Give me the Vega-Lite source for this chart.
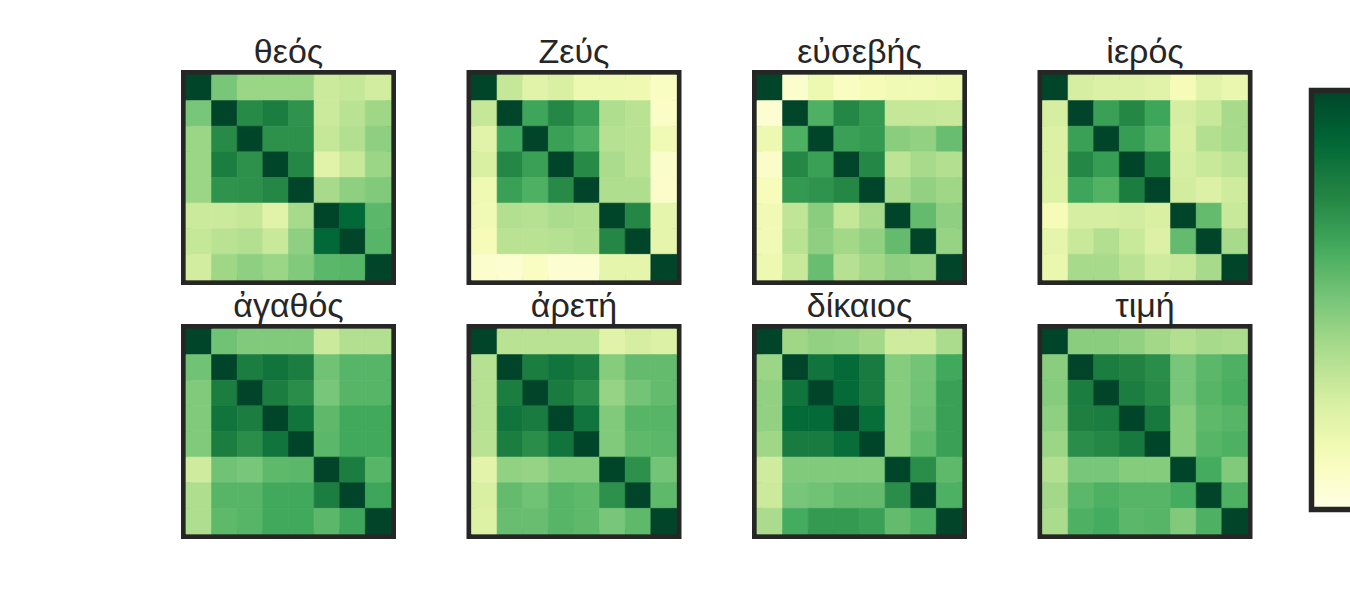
{
"$schema": "https://vega.github.io/schema/vega-lite/v6.json",
"background": "white",
"padding": {"left": 180, "top": 30, "right": 0, "bottom": 0},
"data": {"values": [
{"w":"θεός","r":0,"c":0,"v":1},{"w":"θεός","r":0,"c":1,"v":0.50},{"w":"θεός","r":0,"c":2,"v":0.42},{"w":"θεός","r":0,"c":3,"v":0.42},{"w":"θεός","r":0,"c":4,"v":0.42},{"w":"θεός","r":0,"c":5,"v":0.29},{"w":"θεός","r":0,"c":6,"v":0.31},{"w":"θεός","r":0,"c":7,"v":0.27},
{"w":"θεός","r":1,"c":0,"v":0.50},{"w":"θεός","r":1,"c":1,"v":1},{"w":"θεός","r":1,"c":2,"v":0.73},{"w":"θεός","r":1,"c":3,"v":0.78},{"w":"θεός","r":1,"c":4,"v":0.70},{"w":"θεός","r":1,"c":5,"v":0.29},{"w":"θεός","r":1,"c":6,"v":0.34},{"w":"θεός","r":1,"c":7,"v":0.41},
{"w":"θεός","r":2,"c":0,"v":0.42},{"w":"θεός","r":2,"c":1,"v":0.73},{"w":"θεός","r":2,"c":2,"v":1},{"w":"θεός","r":2,"c":3,"v":0.71},{"w":"θεός","r":2,"c":4,"v":0.71},{"w":"θεός","r":2,"c":5,"v":0.31},{"w":"θεός","r":2,"c":6,"v":0.36},{"w":"θεός","r":2,"c":7,"v":0.45},
{"w":"θεός","r":3,"c":0,"v":0.42},{"w":"θεός","r":3,"c":1,"v":0.78},{"w":"θεός","r":3,"c":2,"v":0.71},{"w":"θεός","r":3,"c":3,"v":1},{"w":"θεός","r":3,"c":4,"v":0.74},{"w":"θεός","r":3,"c":5,"v":0.22},{"w":"θεός","r":3,"c":6,"v":0.30},{"w":"θεός","r":3,"c":7,"v":0.42},
{"w":"θεός","r":4,"c":0,"v":0.42},{"w":"θεός","r":4,"c":1,"v":0.70},{"w":"θεός","r":4,"c":2,"v":0.71},{"w":"θεός","r":4,"c":3,"v":0.74},{"w":"θεός","r":4,"c":4,"v":1},{"w":"θεός","r":4,"c":5,"v":0.39},{"w":"θεός","r":4,"c":6,"v":0.45},{"w":"θεός","r":4,"c":7,"v":0.48},
{"w":"θεός","r":5,"c":0,"v":0.29},{"w":"θεός","r":5,"c":1,"v":0.29},{"w":"θεός","r":5,"c":2,"v":0.31},{"w":"θεός","r":5,"c":3,"v":0.22},{"w":"θεός","r":5,"c":4,"v":0.39},{"w":"θεός","r":5,"c":5,"v":1},{"w":"θεός","r":5,"c":6,"v":0.87},{"w":"θεός","r":5,"c":7,"v":0.57},
{"w":"θεός","r":6,"c":0,"v":0.31},{"w":"θεός","r":6,"c":1,"v":0.34},{"w":"θεός","r":6,"c":2,"v":0.36},{"w":"θεός","r":6,"c":3,"v":0.30},{"w":"θεός","r":6,"c":4,"v":0.45},{"w":"θεός","r":6,"c":5,"v":0.87},{"w":"θεός","r":6,"c":6,"v":1},{"w":"θεός","r":6,"c":7,"v":0.58},
{"w":"θεός","r":7,"c":0,"v":0.27},{"w":"θεός","r":7,"c":1,"v":0.41},{"w":"θεός","r":7,"c":2,"v":0.45},{"w":"θεός","r":7,"c":3,"v":0.42},{"w":"θεός","r":7,"c":4,"v":0.48},{"w":"θεός","r":7,"c":5,"v":0.57},{"w":"θεός","r":7,"c":6,"v":0.58},{"w":"θεός","r":7,"c":7,"v":1},

{"w":"Ζεύς","r":0,"c":0,"v":1},{"w":"Ζεύς","r":0,"c":1,"v":0.31},{"w":"Ζεύς","r":0,"c":2,"v":0.22},{"w":"Ζεύς","r":0,"c":3,"v":0.25},{"w":"Ζεύς","r":0,"c":4,"v":0.17},{"w":"Ζεύς","r":0,"c":5,"v":0.17},{"w":"Ζεύς","r":0,"c":6,"v":0.16},{"w":"Ζεύς","r":0,"c":7,"v":0.10},
{"w":"Ζεύς","r":1,"c":0,"v":0.31},{"w":"Ζεύς","r":1,"c":1,"v":1},{"w":"Ζεύς","r":1,"c":2,"v":0.64},{"w":"Ζεύς","r":1,"c":3,"v":0.74},{"w":"Ζεύς","r":1,"c":4,"v":0.66},{"w":"Ζεύς","r":1,"c":5,"v":0.37},{"w":"Ζεύς","r":1,"c":6,"v":0.34},{"w":"Ζεύς","r":1,"c":7,"v":0.09},
{"w":"Ζεύς","r":2,"c":0,"v":0.22},{"w":"Ζεύς","r":2,"c":1,"v":0.64},{"w":"Ζεύς","r":2,"c":2,"v":1},{"w":"Ζεύς","r":2,"c":3,"v":0.66},{"w":"Ζεύς","r":2,"c":4,"v":0.60},{"w":"Ζεύς","r":2,"c":5,"v":0.35},{"w":"Ζεύς","r":2,"c":6,"v":0.34},{"w":"Ζεύς","r":2,"c":7,"v":0.15},
{"w":"Ζεύς","r":3,"c":0,"v":0.25},{"w":"Ζεύς","r":3,"c":1,"v":0.74},{"w":"Ζεύς","r":3,"c":2,"v":0.66},{"w":"Ζεύς","r":3,"c":3,"v":1},{"w":"Ζεύς","r":3,"c":4,"v":0.73},{"w":"Ζεύς","r":3,"c":5,"v":0.38},{"w":"Ζεύς","r":3,"c":6,"v":0.34},{"w":"Ζεύς","r":3,"c":7,"v":0.08},
{"w":"Ζεύς","r":4,"c":0,"v":0.16},{"w":"Ζεύς","r":4,"c":1,"v":0.66},{"w":"Ζεύς","r":4,"c":2,"v":0.60},{"w":"Ζεύς","r":4,"c":3,"v":0.73},{"w":"Ζεύς","r":4,"c":4,"v":1},{"w":"Ζεύς","r":4,"c":5,"v":0.37},{"w":"Ζεύς","r":4,"c":6,"v":0.37},{"w":"Ζεύς","r":4,"c":7,"v":0.08},
{"w":"Ζεύς","r":5,"c":0,"v":0.15},{"w":"Ζεύς","r":5,"c":1,"v":0.36},{"w":"Ζεύς","r":5,"c":2,"v":0.35},{"w":"Ζεύς","r":5,"c":3,"v":0.38},{"w":"Ζεύς","r":5,"c":4,"v":0.37},{"w":"Ζεύς","r":5,"c":5,"v":1},{"w":"Ζεύς","r":5,"c":6,"v":0.74},{"w":"Ζεύς","r":5,"c":7,"v":0.20},
{"w":"Ζεύς","r":6,"c":0,"v":0.13},{"w":"Ζεύς","r":6,"c":1,"v":0.34},{"w":"Ζεύς","r":6,"c":2,"v":0.34},{"w":"Ζεύς","r":6,"c":3,"v":0.35},{"w":"Ζεύς","r":6,"c":4,"v":0.37},{"w":"Ζεύς","r":6,"c":5,"v":0.74},{"w":"Ζεύς","r":6,"c":6,"v":1},{"w":"Ζεύς","r":6,"c":7,"v":0.20},
{"w":"Ζεύς","r":7,"c":0,"v":0.07},{"w":"Ζεύς","r":7,"c":1,"v":0.06},{"w":"Ζεύς","r":7,"c":2,"v":0.10},{"w":"Ζεύς","r":7,"c":3,"v":0.06},{"w":"Ζεύς","r":7,"c":4,"v":0.06},{"w":"Ζεύς","r":7,"c":5,"v":0.20},{"w":"Ζεύς","r":7,"c":6,"v":0.20},{"w":"Ζεύς","r":7,"c":7,"v":1},

{"w":"εὐσεβής","r":0,"c":0,"v":1},{"w":"εὐσεβής","r":0,"c":1,"v":0.07},{"w":"εὐσεβής","r":0,"c":2,"v":0.17},{"w":"εὐσεβής","r":0,"c":3,"v":0.10},{"w":"εὐσεβής","r":0,"c":4,"v":0.13},{"w":"εὐσεβής","r":0,"c":5,"v":0.15},{"w":"εὐσεβής","r":0,"c":6,"v":0.15},{"w":"εὐσεβής","r":0,"c":7,"v":0.17},
{"w":"εὐσεβής","r":1,"c":0,"v":0.06},{"w":"εὐσεβής","r":1,"c":1,"v":1},{"w":"εὐσεβής","r":1,"c":2,"v":0.60},{"w":"εὐσεβής","r":1,"c":3,"v":0.74},{"w":"εὐσεβής","r":1,"c":4,"v":0.68},{"w":"εὐσεβής","r":1,"c":5,"v":0.31},{"w":"εὐσεβής","r":1,"c":6,"v":0.31},{"w":"εὐσεβής","r":1,"c":7,"v":0.30},
{"w":"εὐσεβής","r":2,"c":0,"v":0.17},{"w":"εὐσεβής","r":2,"c":1,"v":0.60},{"w":"εὐσεβής","r":2,"c":2,"v":1},{"w":"εὐσεβής","r":2,"c":3,"v":0.66},{"w":"εὐσεβής","r":2,"c":4,"v":0.68},{"w":"εὐσεβής","r":2,"c":5,"v":0.46},{"w":"εὐσεβής","r":2,"c":6,"v":0.44},{"w":"εὐσεβής","r":2,"c":7,"v":0.54},
{"w":"εὐσεβής","r":3,"c":0,"v":0.08},{"w":"εὐσεβής","r":3,"c":1,"v":0.74},{"w":"εὐσεβής","r":3,"c":2,"v":0.66},{"w":"εὐσεβής","r":3,"c":3,"v":1},{"w":"εὐσεβής","r":3,"c":4,"v":0.74},{"w":"εὐσεβής","r":3,"c":5,"v":0.33},{"w":"εὐσεβής","r":3,"c":6,"v":0.39},{"w":"εὐσεβής","r":3,"c":7,"v":0.36},
{"w":"εὐσεβής","r":4,"c":0,"v":0.12},{"w":"εὐσεβής","r":4,"c":1,"v":0.68},{"w":"εὐσεβής","r":4,"c":2,"v":0.70},{"w":"εὐσεβής","r":4,"c":3,"v":0.74},{"w":"εὐσεβής","r":4,"c":4,"v":1},{"w":"εὐσεβής","r":4,"c":5,"v":0.39},{"w":"εὐσεβής","r":4,"c":6,"v":0.44},{"w":"εὐσεβής","r":4,"c":7,"v":0.41},
{"w":"εὐσεβής","r":5,"c":0,"v":0.15},{"w":"εὐσεβής","r":5,"c":1,"v":0.32},{"w":"εὐσεβής","r":5,"c":2,"v":0.46},{"w":"εὐσεβής","r":5,"c":3,"v":0.31},{"w":"εὐσεβής","r":5,"c":4,"v":0.39},{"w":"εὐσεβής","r":5,"c":5,"v":1},{"w":"εὐσεβής","r":5,"c":6,"v":0.55},{"w":"εὐσεβής","r":5,"c":7,"v":0.45},
{"w":"εὐσεβής","r":6,"c":0,"v":0.15},{"w":"εὐσεβής","r":6,"c":1,"v":0.34},{"w":"εὐσεβής","r":6,"c":2,"v":0.45},{"w":"εὐσεβής","r":6,"c":3,"v":0.40},{"w":"εὐσεβής","r":6,"c":4,"v":0.44},{"w":"εὐσεβής","r":6,"c":5,"v":0.55},{"w":"εὐσεβής","r":6,"c":6,"v":1},{"w":"εὐσεβής","r":6,"c":7,"v":0.43},
{"w":"εὐσεβής","r":7,"c":0,"v":0.17},{"w":"εὐσεβής","r":7,"c":1,"v":0.30},{"w":"εὐσεβής","r":7,"c":2,"v":0.54},{"w":"εὐσεβής","r":7,"c":3,"v":0.35},{"w":"εὐσεβής","r":7,"c":4,"v":0.40},{"w":"εὐσεβής","r":7,"c":5,"v":0.45},{"w":"εὐσεβής","r":7,"c":6,"v":0.43},{"w":"εὐσεβής","r":7,"c":7,"v":1},

{"w":"ἱερός","r":0,"c":0,"v":1},{"w":"ἱερός","r":0,"c":1,"v":0.26},{"w":"ἱερός","r":0,"c":2,"v":0.24},{"w":"ἱερός","r":0,"c":3,"v":0.24},{"w":"ἱερός","r":0,"c":4,"v":0.22},{"w":"ἱερός","r":0,"c":5,"v":0.13},{"w":"ἱερός","r":0,"c":6,"v":0.22},{"w":"ἱερός","r":0,"c":7,"v":0.18},
{"w":"ἱερός","r":1,"c":0,"v":0.26},{"w":"ἱερός","r":1,"c":1,"v":1},{"w":"ἱερός","r":1,"c":2,"v":0.66},{"w":"ἱερός","r":1,"c":3,"v":0.74},{"w":"ἱερός","r":1,"c":4,"v":0.64},{"w":"ἱερός","r":1,"c":5,"v":0.26},{"w":"ἱερός","r":1,"c":6,"v":0.30},{"w":"ἱερός","r":1,"c":7,"v":0.39},
{"w":"ἱερός","r":2,"c":0,"v":0.24},{"w":"ἱερός","r":2,"c":1,"v":0.66},{"w":"ἱερός","r":2,"c":2,"v":1},{"w":"ἱερός","r":2,"c":3,"v":0.67},{"w":"ἱερός","r":2,"c":4,"v":0.59},{"w":"ἱερός","r":2,"c":5,"v":0.25},{"w":"ἱερός","r":2,"c":6,"v":0.36},{"w":"ἱερός","r":2,"c":7,"v":0.39},
{"w":"ἱερός","r":3,"c":0,"v":0.24},{"w":"ἱερός","r":3,"c":1,"v":0.74},{"w":"ἱερός","r":3,"c":2,"v":0.67},{"w":"ἱερός","r":3,"c":3,"v":1},{"w":"ἱερός","r":3,"c":4,"v":0.78},{"w":"ἱερός","r":3,"c":5,"v":0.26},{"w":"ἱερός","r":3,"c":6,"v":0.30},{"w":"ἱερός","r":3,"c":7,"v":0.33},
{"w":"ἱερός","r":4,"c":0,"v":0.23},{"w":"ἱερός","r":4,"c":1,"v":0.64},{"w":"ἱερός","r":4,"c":2,"v":0.59},{"w":"ἱερός","r":4,"c":3,"v":0.78},{"w":"ἱερός","r":4,"c":4,"v":1},{"w":"ἱερός","r":4,"c":5,"v":0.27},{"w":"ἱερός","r":4,"c":6,"v":0.24},{"w":"ἱερός","r":4,"c":7,"v":0.28},
{"w":"ἱερός","r":5,"c":0,"v":0.13},{"w":"ἱερός","r":5,"c":1,"v":0.26},{"w":"ἱερός","r":5,"c":2,"v":0.26},{"w":"ἱερός","r":5,"c":3,"v":0.27},{"w":"ἱερός","r":5,"c":4,"v":0.25},{"w":"ἱερός","r":5,"c":5,"v":1},{"w":"ἱερός","r":5,"c":6,"v":0.55},{"w":"ἱερός","r":5,"c":7,"v":0.30},
{"w":"ἱερός","r":6,"c":0,"v":0.20},{"w":"ἱερός","r":6,"c":1,"v":0.30},{"w":"ἱερός","r":6,"c":2,"v":0.36},{"w":"ἱερός","r":6,"c":3,"v":0.30},{"w":"ἱερός","r":6,"c":4,"v":0.24},{"w":"ἱερός","r":6,"c":5,"v":0.55},{"w":"ἱερός","r":6,"c":6,"v":1},{"w":"ἱερός","r":6,"c":7,"v":0.39},
{"w":"ἱερός","r":7,"c":0,"v":0.18},{"w":"ἱερός","r":7,"c":1,"v":0.39},{"w":"ἱερός","r":7,"c":2,"v":0.39},{"w":"ἱερός","r":7,"c":3,"v":0.34},{"w":"ἱερός","r":7,"c":4,"v":0.28},{"w":"ἱερός","r":7,"c":5,"v":0.30},{"w":"ἱερός","r":7,"c":6,"v":0.39},{"w":"ἱερός","r":7,"c":7,"v":1},

{"w":"ἀγαθός","r":0,"c":0,"v":1},{"w":"ἀγαθός","r":0,"c":1,"v":0.52},{"w":"ἀγαθός","r":0,"c":2,"v":0.48},{"w":"ἀγαθός","r":0,"c":3,"v":0.48},{"w":"ἀγαθός","r":0,"c":4,"v":0.48},{"w":"ἀγαθός","r":0,"c":5,"v":0.29},{"w":"ἀγαθός","r":0,"c":6,"v":0.36},{"w":"ἀγαθός","r":0,"c":7,"v":0.36},
{"w":"ἀγαθός","r":1,"c":0,"v":0.52},{"w":"ἀγαθός","r":1,"c":1,"v":1},{"w":"ἀγαθός","r":1,"c":2,"v":0.78},{"w":"ἀγαθός","r":1,"c":3,"v":0.82},{"w":"ἀγαθός","r":1,"c":4,"v":0.78},{"w":"ἀγαθός","r":1,"c":5,"v":0.52},{"w":"ἀγαθός","r":1,"c":6,"v":0.58},{"w":"ἀγαθός","r":1,"c":7,"v":0.58},
{"w":"ἀγαθός","r":2,"c":0,"v":0.48},{"w":"ἀγαθός","r":2,"c":1,"v":0.78},{"w":"ἀγαθός","r":2,"c":2,"v":1},{"w":"ἀγαθός","r":2,"c":3,"v":0.78},{"w":"ἀγαθός","r":2,"c":4,"v":0.72},{"w":"ἀγαθός","r":2,"c":5,"v":0.50},{"w":"ἀγαθός","r":2,"c":6,"v":0.58},{"w":"ἀγαθός","r":2,"c":7,"v":0.58},
{"w":"ἀγαθός","r":3,"c":0,"v":0.48},{"w":"ἀγαθός","r":3,"c":1,"v":0.82},{"w":"ἀγαθός","r":3,"c":2,"v":0.78},{"w":"ἀγαθός","r":3,"c":3,"v":1},{"w":"ἀγαθός","r":3,"c":4,"v":0.82},{"w":"ἀγαθός","r":3,"c":5,"v":0.56},{"w":"ἀγαθός","r":3,"c":6,"v":0.63},{"w":"ἀγαθός","r":3,"c":7,"v":0.63},
{"w":"ἀγαθός","r":4,"c":0,"v":0.48},{"w":"ἀγαθός","r":4,"c":1,"v":0.78},{"w":"ἀγαθός","r":4,"c":2,"v":0.72},{"w":"ἀγαθός","r":4,"c":3,"v":0.82},{"w":"ἀγαθός","r":4,"c":4,"v":1},{"w":"ἀγαθός","r":4,"c":5,"v":0.57},{"w":"ἀγαθός","r":4,"c":6,"v":0.63},{"w":"ἀγαθός","r":4,"c":7,"v":0.63},
{"w":"ἀγαθός","r":5,"c":0,"v":0.28},{"w":"ἀγαθός","r":5,"c":1,"v":0.52},{"w":"ἀγαθός","r":5,"c":2,"v":0.50},{"w":"ἀγαθός","r":5,"c":3,"v":0.56},{"w":"ἀγαθός","r":5,"c":4,"v":0.57},{"w":"ἀγαθός","r":5,"c":5,"v":1},{"w":"ἀγαθός","r":5,"c":6,"v":0.78},{"w":"ἀγαθός","r":5,"c":7,"v":0.58},
{"w":"ἀγαθός","r":6,"c":0,"v":0.37},{"w":"ἀγαθός","r":6,"c":1,"v":0.58},{"w":"ἀγαθός","r":6,"c":2,"v":0.58},{"w":"ἀγαθός","r":6,"c":3,"v":0.63},{"w":"ἀγαθός","r":6,"c":4,"v":0.63},{"w":"ἀγαθός","r":6,"c":5,"v":0.78},{"w":"ἀγαθός","r":6,"c":6,"v":1},{"w":"ἀγαθός","r":6,"c":7,"v":0.64},
{"w":"ἀγαθός","r":7,"c":0,"v":0.37},{"w":"ἀγαθός","r":7,"c":1,"v":0.56},{"w":"ἀγαθός","r":7,"c":2,"v":0.58},{"w":"ἀγαθός","r":7,"c":3,"v":0.63},{"w":"ἀγαθός","r":7,"c":4,"v":0.63},{"w":"ἀγαθός","r":7,"c":5,"v":0.57},{"w":"ἀγαθός","r":7,"c":6,"v":0.64},{"w":"ἀγαθός","r":7,"c":7,"v":1},

{"w":"ἀρετή","r":0,"c":0,"v":1},{"w":"ἀρετή","r":0,"c":1,"v":0.34},{"w":"ἀρετή","r":0,"c":2,"v":0.34},{"w":"ἀρετή","r":0,"c":3,"v":0.34},{"w":"ἀρετή","r":0,"c":4,"v":0.34},{"w":"ἀρετή","r":0,"c":5,"v":0.22},{"w":"ἀρετή","r":0,"c":6,"v":0.26},{"w":"ἀρετή","r":0,"c":7,"v":0.24},
{"w":"ἀρετή","r":1,"c":0,"v":0.35},{"w":"ἀρετή","r":1,"c":1,"v":1},{"w":"ἀρετή","r":1,"c":2,"v":0.78},{"w":"ἀρετή","r":1,"c":3,"v":0.82},{"w":"ἀρετή","r":1,"c":4,"v":0.78},{"w":"ἀρετή","r":1,"c":5,"v":0.47},{"w":"ἀρετή","r":1,"c":6,"v":0.55},{"w":"ἀρετή","r":1,"c":7,"v":0.55},
{"w":"ἀρετή","r":2,"c":0,"v":0.35},{"w":"ἀρετή","r":2,"c":1,"v":0.78},{"w":"ἀρετή","r":2,"c":2,"v":1},{"w":"ἀρετή","r":2,"c":3,"v":0.79},{"w":"ἀρετή","r":2,"c":4,"v":0.72},{"w":"ἀρετή","r":2,"c":5,"v":0.43},{"w":"ἀρετή","r":2,"c":6,"v":0.51},{"w":"ἀρετή","r":2,"c":7,"v":0.55},
{"w":"ἀρετή","r":3,"c":0,"v":0.35},{"w":"ἀρετή","r":3,"c":1,"v":0.82},{"w":"ἀρετή","r":3,"c":2,"v":0.79},{"w":"ἀρετή","r":3,"c":3,"v":1},{"w":"ἀρετή","r":3,"c":4,"v":0.82},{"w":"ἀρετή","r":3,"c":5,"v":0.48},{"w":"ἀρετή","r":3,"c":6,"v":0.58},{"w":"ἀρετή","r":3,"c":7,"v":0.58},
{"w":"ἀρετή","r":4,"c":0,"v":0.34},{"w":"ἀρετή","r":4,"c":1,"v":0.78},{"w":"ἀρετή","r":4,"c":2,"v":0.72},{"w":"ἀρετή","r":4,"c":3,"v":0.82},{"w":"ἀρετή","r":4,"c":4,"v":1},{"w":"ἀρετή","r":4,"c":5,"v":0.48},{"w":"ἀρετή","r":4,"c":6,"v":0.56},{"w":"ἀρετή","r":4,"c":7,"v":0.57},
{"w":"ἀρετή","r":5,"c":0,"v":0.21},{"w":"ἀρετή","r":5,"c":1,"v":0.44},{"w":"ἀρετή","r":5,"c":2,"v":0.43},{"w":"ἀρετή","r":5,"c":3,"v":0.48},{"w":"ἀρετή","r":5,"c":4,"v":0.48},{"w":"ἀρετή","r":5,"c":5,"v":1},{"w":"ἀρετή","r":5,"c":6,"v":0.71},{"w":"ἀρετή","r":5,"c":7,"v":0.51},
{"w":"ἀρετή","r":6,"c":0,"v":0.25},{"w":"ἀρετή","r":6,"c":1,"v":0.55},{"w":"ἀρετή","r":6,"c":2,"v":0.52},{"w":"ἀρετή","r":6,"c":3,"v":0.58},{"w":"ἀρετή","r":6,"c":4,"v":0.56},{"w":"ἀρετή","r":6,"c":5,"v":0.71},{"w":"ἀρετή","r":6,"c":6,"v":1},{"w":"ἀρετή","r":6,"c":7,"v":0.56},
{"w":"ἀρετή","r":7,"c":0,"v":0.23},{"w":"ἀρετή","r":7,"c":1,"v":0.54},{"w":"ἀρετή","r":7,"c":2,"v":0.54},{"w":"ἀρετή","r":7,"c":3,"v":0.58},{"w":"ἀρετή","r":7,"c":4,"v":0.56},{"w":"ἀρετή","r":7,"c":5,"v":0.50},{"w":"ἀρετή","r":7,"c":6,"v":0.56},{"w":"ἀρετή","r":7,"c":7,"v":1},

{"w":"δίκαιος","r":0,"c":0,"v":1},{"w":"δίκαιος","r":0,"c":1,"v":0.41},{"w":"δίκαιος","r":0,"c":2,"v":0.44},{"w":"δίκαιος","r":0,"c":3,"v":0.43},{"w":"δίκαιος","r":0,"c":4,"v":0.40},{"w":"δίκαιος","r":0,"c":5,"v":0.28},{"w":"δίκαιος","r":0,"c":6,"v":0.28},{"w":"δίκαιος","r":0,"c":7,"v":0.38},
{"w":"δίκαιος","r":1,"c":0,"v":0.42},{"w":"δίκαιος","r":1,"c":1,"v":1},{"w":"δίκαιος","r":1,"c":2,"v":0.82},{"w":"δίκαιος","r":1,"c":3,"v":0.86},{"w":"δίκαιος","r":1,"c":4,"v":0.79},{"w":"δίκαιος","r":1,"c":5,"v":0.47},{"w":"δίκαιος","r":1,"c":6,"v":0.51},{"w":"δίκαιος","r":1,"c":7,"v":0.63},
{"w":"δίκαιος","r":2,"c":0,"v":0.44},{"w":"δίκαιος","r":2,"c":1,"v":0.82},{"w":"δίκαιος","r":2,"c":2,"v":1},{"w":"δίκαιος","r":2,"c":3,"v":0.86},{"w":"δίκαιος","r":2,"c":4,"v":0.79},{"w":"δίκαιος","r":2,"c":5,"v":0.47},{"w":"δίκαιος","r":2,"c":6,"v":0.52},{"w":"δίκαιος","r":2,"c":7,"v":0.66},
{"w":"δίκαιος","r":3,"c":0,"v":0.44},{"w":"δίκαιος","r":3,"c":1,"v":0.86},{"w":"δίκαιος","r":3,"c":2,"v":0.86},{"w":"δίκαιος","r":3,"c":3,"v":1},{"w":"δίκαιος","r":3,"c":4,"v":0.85},{"w":"δίκαιος","r":3,"c":5,"v":0.47},{"w":"δίκαιος","r":3,"c":6,"v":0.53},{"w":"δίκαιος","r":3,"c":7,"v":0.66},
{"w":"δίκαιος","r":4,"c":0,"v":0.41},{"w":"δίκαιος","r":4,"c":1,"v":0.79},{"w":"δίκαιος","r":4,"c":2,"v":0.79},{"w":"δίκαιος","r":4,"c":3,"v":0.85},{"w":"δίκαιος","r":4,"c":4,"v":1},{"w":"δίκαιος","r":4,"c":5,"v":0.47},{"w":"δίκαιος","r":4,"c":6,"v":0.56},{"w":"δίκαιος","r":4,"c":7,"v":0.66},
{"w":"δίκαιος","r":5,"c":0,"v":0.28},{"w":"δίκαιος","r":5,"c":1,"v":0.48},{"w":"δίκαιος","r":5,"c":2,"v":0.48},{"w":"δίκαιος","r":5,"c":3,"v":0.48},{"w":"δίκαιος","r":5,"c":4,"v":0.48},{"w":"δίκαιος","r":5,"c":5,"v":1},{"w":"δίκαιος","r":5,"c":6,"v":0.72},{"w":"δίκαιος","r":5,"c":7,"v":0.56},
{"w":"δίκαιος","r":6,"c":0,"v":0.29},{"w":"δίκαιος","r":6,"c":1,"v":0.50},{"w":"δίκαιος","r":6,"c":2,"v":0.52},{"w":"δίκαιος","r":6,"c":3,"v":0.55},{"w":"δίκαιος","r":6,"c":4,"v":0.55},{"w":"δίκαιος","r":6,"c":5,"v":0.72},{"w":"δίκαιος","r":6,"c":6,"v":1},{"w":"δίκαιος","r":6,"c":7,"v":0.60},
{"w":"δίκαιος","r":7,"c":0,"v":0.38},{"w":"δίκαιος","r":7,"c":1,"v":0.62},{"w":"δίκαιος","r":7,"c":2,"v":0.68},{"w":"δίκαιος","r":7,"c":3,"v":0.68},{"w":"δίκαιος","r":7,"c":4,"v":0.66},{"w":"δίκαιος","r":7,"c":5,"v":0.55},{"w":"δίκαιος","r":7,"c":6,"v":0.60},{"w":"δίκαιος","r":7,"c":7,"v":1},

{"w":"τιμή","r":0,"c":0,"v":1},{"w":"τιμή","r":0,"c":1,"v":0.46},{"w":"τιμή","r":0,"c":2,"v":0.46},{"w":"τιμή","r":0,"c":3,"v":0.44},{"w":"τιμή","r":0,"c":4,"v":0.40},{"w":"τιμή","r":0,"c":5,"v":0.36},{"w":"τιμή","r":0,"c":6,"v":0.39},{"w":"τιμή","r":0,"c":7,"v":0.38},
{"w":"τιμή","r":1,"c":0,"v":0.46},{"w":"τιμή","r":1,"c":1,"v":1},{"w":"τιμή","r":1,"c":2,"v":0.78},{"w":"τιμή","r":1,"c":3,"v":0.76},{"w":"τιμή","r":1,"c":4,"v":0.72},{"w":"τιμή","r":1,"c":5,"v":0.50},{"w":"τιμή","r":1,"c":6,"v":0.57},{"w":"τιμή","r":1,"c":7,"v":0.60},
{"w":"τιμή","r":2,"c":0,"v":0.47},{"w":"τιμή","r":2,"c":1,"v":0.78},{"w":"τιμή","r":2,"c":2,"v":1},{"w":"τιμή","r":2,"c":3,"v":0.78},{"w":"τιμή","r":2,"c":4,"v":0.73},{"w":"τιμή","r":2,"c":5,"v":0.50},{"w":"τιμή","r":2,"c":6,"v":0.58},{"w":"τιμή","r":2,"c":7,"v":0.61},
{"w":"τιμή","r":3,"c":0,"v":0.45},{"w":"τιμή","r":3,"c":1,"v":0.77},{"w":"τιμή","r":3,"c":2,"v":0.78},{"w":"τιμή","r":3,"c":3,"v":1},{"w":"τιμή","r":3,"c":4,"v":0.80},{"w":"τιμή","r":3,"c":5,"v":0.47},{"w":"τιμή","r":3,"c":6,"v":0.56},{"w":"τιμή","r":3,"c":7,"v":0.58},
{"w":"τιμή","r":4,"c":0,"v":0.42},{"w":"τιμή","r":4,"c":1,"v":0.72},{"w":"τιμή","r":4,"c":2,"v":0.74},{"w":"τιμή","r":4,"c":3,"v":0.80},{"w":"τιμή","r":4,"c":4,"v":1},{"w":"τιμή","r":4,"c":5,"v":0.47},{"w":"τιμή","r":4,"c":6,"v":0.58},{"w":"τιμή","r":4,"c":7,"v":0.60},
{"w":"τιμή","r":5,"c":0,"v":0.36},{"w":"τιμή","r":5,"c":1,"v":0.50},{"w":"τιμή","r":5,"c":2,"v":0.50},{"w":"τιμή","r":5,"c":3,"v":0.47},{"w":"τιμή","r":5,"c":4,"v":0.47},{"w":"τιμή","r":5,"c":5,"v":1},{"w":"τιμή","r":5,"c":6,"v":0.62},{"w":"τιμή","r":5,"c":7,"v":0.48},
{"w":"τιμή","r":6,"c":0,"v":0.40},{"w":"τιμή","r":6,"c":1,"v":0.57},{"w":"τιμή","r":6,"c":2,"v":0.60},{"w":"τιμή","r":6,"c":3,"v":0.58},{"w":"τιμή","r":6,"c":4,"v":0.58},{"w":"τιμή","r":6,"c":5,"v":0.62},{"w":"τιμή","r":6,"c":6,"v":1},{"w":"τιμή","r":6,"c":7,"v":0.60},
{"w":"τιμή","r":7,"c":0,"v":0.38},{"w":"τιμή","r":7,"c":1,"v":0.60},{"w":"τιμή","r":7,"c":2,"v":0.62},{"w":"τιμή","r":7,"c":3,"v":0.57},{"w":"τιμή","r":7,"c":4,"v":0.58},{"w":"τιμή","r":7,"c":5,"v":0.48},{"w":"τιμή","r":7,"c":6,"v":0.60},{"w":"τιμή","r":7,"c":7,"v":1}
]},
"facet": {"field": "w", "type": "nominal", "title": null,
  "sort": ["θεός","Ζεύς","εὐσεβής","ἱερός","ἀγαθός","ἀρετή","δίκαιος","τιμή"],
  "header": {"labelFont": "Liberation Sans", "labelFontSize": 34, "labelColor": "#262626", "labelBaseline": "bottom", "labelPadding": -29}},
"columns": 4,
"spacing": {"column": 68.5, "row": -2},
"spec": {
  "width": 205, "height": 205,
  "mark": {"type": "rect", "strokeWidth": 0.7, "stroke": {"expr": "scale('color', datum.v)"}},
  "encoding": {
    "x": {"field": "c", "type": "ordinal", "axis": null, "scale": {"paddingInner": 0, "paddingOuter": 0}},
    "y": {"field": "r", "type": "ordinal", "axis": null, "scale": {"paddingInner": 0, "paddingOuter": 0}},
    "color": {"field": "v", "type": "quantitative",
      "scale": {"domain": [0, 0.125, 0.25, 0.375, 0.5, 0.625, 0.75, 0.875, 1],
                "range": ["#ffffe5","#f7fcb9","#d9f0a3","#addd8e","#78c679","#41ab5d","#238443","#006837","#004529"]},
      "legend": {"type": "gradient", "orient": "none", "legendX": 1125.5, "legendY": 15.5, "title": null, "labelExpr": "''", "padding": 0,
        "direction": "vertical", "gradientLength": 419, "gradientThickness": 50,
        "gradientStrokeColor": "#262626", "gradientStrokeWidth": 5.5}}
  }
},
"config": {"view": {"stroke": "#262626", "strokeWidth": 10}}
}
